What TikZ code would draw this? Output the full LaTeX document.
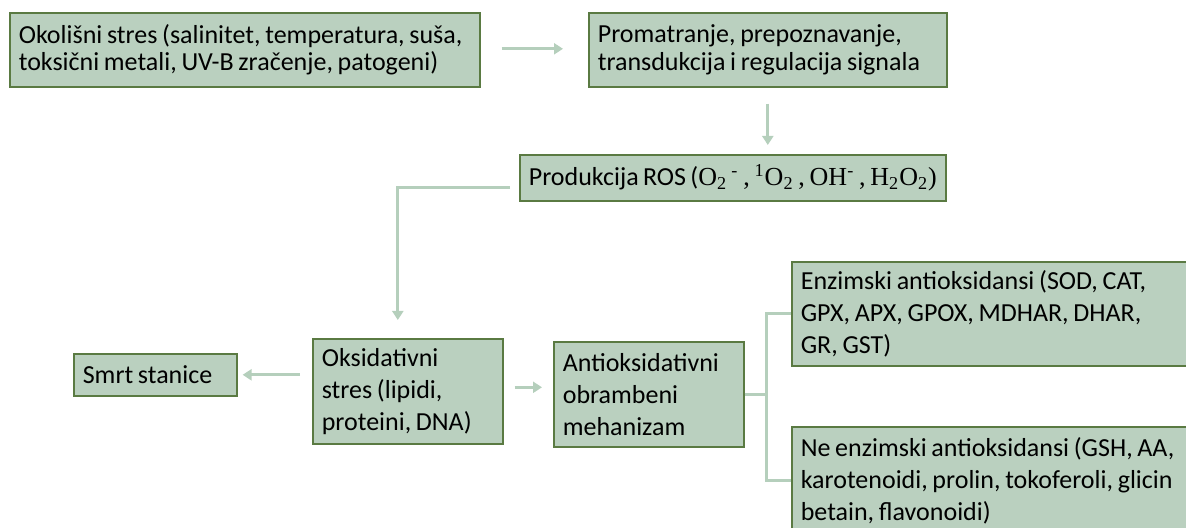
\documentclass[tikz,border=0pt]{standalone}
\usepackage{fontspec}
\setmainfont{Carlito}[WordSpace=0.8]
\newfontfamily\chemfont{Liberation Serif}[WordSpace=0.8]
\usetikzlibrary{arrows.meta}
\definecolor{boxfill}{RGB}{186,208,191}
\definecolor{boxline}{RGB}{90,122,66}
\definecolor{arrowgreen}{RGB}{181,207,188}

\begin{document}
\begin{tikzpicture}[x=0.5pt, y=-0.5pt,
  stagebox/.style={draw=boxline, fill=boxfill, line width=0.8pt, anchor=north west, align=flush left,
    inner xsep=4.5pt, inner ysep=0pt, font=\fontsize{13}{16}\selectfont},
  tightbox/.style={stagebox, font=\fontsize{13}{13.8}\selectfont},
  flow/.style={draw=arrowgreen, line width=1.5pt, -{Triangle[width=5.5pt,length=4.5pt]}},
  fork/.style={draw=arrowgreen, line width=1.5pt}]
\useasboundingbox (0,0) rectangle (1186,528);
\clip (0,0) rectangle (1186,528);
\node[tightbox, text width=226pt, minimum height=37pt] (okol) at (9,12)
  {Okolišni stres (salinitet, temperatura, suša,\\toksični metali, UV-B zračenje, patogeni)};
\node[tightbox, text width=170pt, minimum height=37pt] (prom) at (588,12)
  {Promatranje, prepoznavanje,\\transdukcija i regulacija signala};
\node[stagebox, text width=204pt, minimum height=23pt] (ros) at (519,154)
  {Produkcija ROS ({\chemfont O\textsubscript{2}\,\textsuperscript{-} , \textsuperscript{1}O\textsubscript{2} , OH\textsuperscript{-} , H\textsubscript{2}O\textsubscript{2})}};
\node[stagebox, text width=86pt, minimum height=52.5pt] (oks) at (312,338)
  {Oksidativni\\stres (lipidi,\\proteini, DNA)};
\node[stagebox, text width=86pt, minimum height=52.5pt] (anti) at (553,341)
  {Antioksidativni\\obrambeni\\mehanizam};
\node[stagebox, text width=72.5pt, minimum height=21pt] (smrt) at (73,353)
  {Smrt stanice};
\node[stagebox, text width=202pt, minimum height=52pt] (enz) at (791,261)
  {Enzimski antioksidansi (SOD, CAT,\\GPX, APX, GPOX, MDHAR, DHAR,\\GR, GST)};
\node[stagebox, text width=202pt, minimum height=54pt] (neenz) at (791,426)
  {Ne enzimski antioksidansi (GSH, AA,\\karotenoidi, prolin, tokoferoli, glicin\\betain, flavonoidi)};

\draw[flow, shorten <=10.5pt, shorten >=12.5pt] ([yshift=0.5pt]okol.east) -- ([yshift=0.5pt]okol.east -| prom.west);
\draw[flow, shorten <=8pt, shorten >=4.5pt] (prom.south) -- (prom.south |- ros.north);
\draw[flow, shorten <=4.5pt, shorten >=9pt] ([yshift=-5pt]ros.west) -| ([xshift=-5pt]oks.north);
\draw[flow, shorten <=5.5pt, shorten >=5.5pt] ([yshift=2pt]oks.east) -- ([yshift=2pt]oks.east -| anti.west);
\draw[flow, shorten <=6pt, shorten >=2.5pt] (smrt.east -| oks.west) -- (smrt.east);
\draw[fork] (enz.west) -- ++(-25,0) coordinate (split) |- (neenz.west);
\draw[fork] (anti.east) -- (anti.east -| split);
\end{tikzpicture}
\end{document}
